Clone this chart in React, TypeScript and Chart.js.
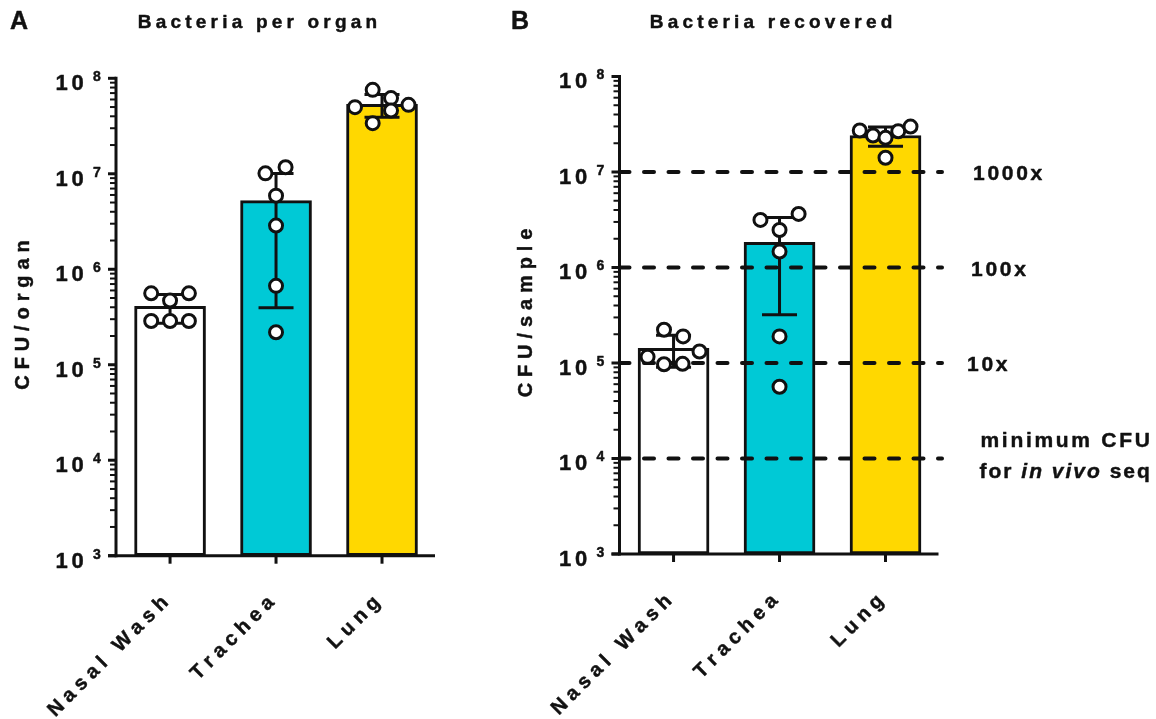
import React, { useEffect, useRef } from "react";
import { Chart, registerables } from "chart.js";

Chart.register(...registerables);

// ---------------- data ----------------
const categories = ["Nasal Wash", "Trachea", "Lung"];
const barColors = ["#FFFFFF", "#00C9D6", "#FFD800"];

// Panel A: CFU per organ (individual animals)
const organNasal = [5.6e5, 5.6e5, 4.7e5, 2.87e5, 2.87e5, 2.87e5];
const organTrachea = [1.01e7, 1.17e7, 5.9e6, 2.87e6, 6.7e5, 2.19e5];
const organLung = [4.99e7, 7.57e7, 6.2e7, 4.6e7, 5.27e7, 3.39e7];
// horizontal scatter spread of the dots (category units)
const organNasalSpread = [-0.178, 0.178, 0, -0.178, 0, 0.178];
const organTracheaSpread = [-0.1, 0.09, 0, 0, 0, 0];
const organLungSpread = [-0.255, -0.088, 0.085, 0.085, 0.25, -0.088];

// Panel B: CFU per sample (individual animals)
const sampleNasal = [2.23e5, 1.9e5, 1.16e5, 1.32e5, 9.7e4, 9.8e4];
const sampleTrachea = [3.15e6, 3.64e6, 2.47e6, 1.47e6, 1.9e5, 5.64e4];
const sampleLung = [2.72e7, 2.41e7, 2.28e7, 2.67e7, 2.99e7, 1.41e7];
const sampleNasalSpread = [-0.09, 0.09, -0.245, 0.245, -0.09, 0.085];
const sampleTracheaSpread = [-0.18, 0.18, 0, 0, 0, 0];
const sampleLungSpread = [-0.243, -0.118, 0, 0.12, 0.236, 0];

// reference thresholds in panel B
const thresholdValues = [1e7, 1e6, 1e5, 1e4];
const thresholdLabels = ["1000x", "100x", "10x", "minimum CFU"];

// y-axis decades (10^n)
const decadeExponents = [3, 4, 5, 6, 7, 8];

// ---------------- helpers ----------------
const INK = "#111111";
const FONT = '"Liberation Sans", Arial, Helvetica, sans-serif';
const TEXT_STROKE = 0.45;

function mean(a: number[]) {
  return a.reduce((s, v) => s + v, 0) / a.length;
}
function sd(a: number[]) {
  const m = mean(a);
  return Math.sqrt(a.reduce((s, v) => s + (v - m) * (v - m), 0) / (a.length - 1));
}

function spacedWidth(ctx: CanvasRenderingContext2D, text: string, spacing: number) {
  let w = 0;
  const chars = Array.from(text);
  for (const ch of chars) w += ctx.measureText(ch).width;
  return w + spacing * (chars.length - 1);
}

function drawSpaced(
  ctx: CanvasRenderingContext2D,
  text: string,
  x: number,
  y: number,
  spacing: number,
  align: "left" | "center" | "right" = "left"
) {
  const w = spacedWidth(ctx, text, spacing);
  let cx = align === "left" ? x : align === "center" ? x - w / 2 : x - w;
  ctx.textAlign = "left";
  ctx.lineWidth = TEXT_STROKE;
  ctx.strokeStyle = INK;
  ctx.lineJoin = "round";
  for (const ch of Array.from(text)) {
    ctx.fillText(ch, cx, y);
    if (ch !== " ") ctx.strokeText(ch, cx, y);
    cx += ctx.measureText(ch).width + spacing;
  }
  return cx;
}

interface PanelCfg {
  letter: string;
  letterX: number;
  title: string;
  titleX: number;
  yTitle: string;
  yTitleX: number;
  yTitleY: number;
  groups: number[][];
  spreads: number[][];
  thresholds?: number[];
  thresholdLabels?: string[];
  dashEnd?: number;
}

function makePanelPlugin(cfg: PanelCfg) {
  return {
    id: "panel" + cfg.letter,
    afterDatasetDraw(chart: any, args: any) {
      if (args.index !== 0) return;
      const ctx: CanvasRenderingContext2D = chart.ctx;
      const xs = chart.scales.x;
      const ys = chart.scales.y;
      ctx.save();
      if (cfg.thresholds) {
        ctx.strokeStyle = INK;
        ctx.lineWidth = 4;
        ctx.lineCap = "round";
        ctx.setLineDash([10, 14.5]);
        for (const v of cfg.thresholds) {
          const py = ys.getPixelForValue(v);
          ctx.beginPath();
          ctx.moveTo(chart.chartArea.left, py);
          ctx.lineTo(cfg.dashEnd || chart.chartArea.right, py);
          ctx.stroke();
        }
        ctx.setLineDash([]);
      }
      ctx.strokeStyle = INK;
      ctx.lineCap = "butt";
      ctx.lineWidth = 3;
      cfg.groups.forEach((g, i) => {
        const m = mean(g);
        const s = sd(g);
        const px = xs.getPixelForValue(i);
        const t = ys.getPixelForValue(m + s);
        const b = ys.getPixelForValue(Math.max(m - s, 1e3));
        ctx.beginPath();
        ctx.moveTo(px, t);
        ctx.lineTo(px, b);
        ctx.moveTo(px - 17.5, t);
        ctx.lineTo(px + 17.5, t);
        ctx.moveTo(px - 17.5, b);
        ctx.lineTo(px + 17.5, b);
        ctx.stroke();
      });
      ctx.restore();
    },
    afterDraw(chart: any) {
      const ctx: CanvasRenderingContext2D = chart.ctx;
      const xs = chart.scales.x;
      const ys = chart.scales.y;
      const { left, right, top, bottom } = chart.chartArea;
      ctx.save();
      ctx.strokeStyle = INK;
      ctx.fillStyle = INK;
      const seg = (x1: number, y1: number, x2: number, y2: number) => {
        ctx.beginPath();
        ctx.moveTo(x1, y1);
        ctx.lineTo(x2, y2);
        ctx.stroke();
      };
      // axes
      ctx.lineWidth = 3;
      seg(left, top - 1.5, left, bottom + 1.5);
      seg(left - 8, bottom, right, bottom);
      for (const e of decadeExponents) {
        const py = ys.getPixelForValue(Math.pow(10, e));
        seg(left - 8, py, left, py);
      }
      ctx.lineWidth = 2;
      for (let e = 3; e < 8; e++) {
        for (let k = 2; k <= 9; k++) {
          const py = ys.getPixelForValue(k * Math.pow(10, e));
          seg(left - 6, py, left, py);
        }
      }
      ctx.lineWidth = 3;
      categories.forEach((_, i) => {
        const px = xs.getPixelForValue(i);
        seg(px, bottom, px, bottom + 8);
      });

      // y tick labels 10^n
      ctx.textBaseline = "alphabetic";
      for (const e of decadeExponents) {
        const py = ys.getPixelForValue(Math.pow(10, e));
        ctx.font = `bold 22px ${FONT}`;
        drawSpaced(ctx, "10", left - 60.6, py + 11.8, 3.9, "left");
        ctx.font = `bold 14px ${FONT}`;
        drawSpaced(ctx, String(e), left - 23, py + 2.8, 0, "left");
      }

      // x category labels (rotated)
      ctx.font = `bold 20px ${FONT}`;
      categories.forEach((c, i) => {
        const px = xs.getPixelForValue(i);
        ctx.save();
        ctx.translate(px - 1, bottom + 48);
        ctx.rotate(-Math.PI / 4);
        drawSpaced(ctx, c, 0, 0, 5.4, "right");
        ctx.restore();
      });

      // y title
      ctx.save();
      ctx.font = `bold 20px ${FONT}`;
      ctx.translate(cfg.yTitleX, cfg.yTitleY);
      ctx.rotate(-Math.PI / 2);
      drawSpaced(ctx, cfg.yTitle, 0, 0, 5.9, "center");
      ctx.restore();

      // title
      ctx.font = `bold 19px ${FONT}`;
      drawSpaced(ctx, cfg.title, cfg.titleX, 27.5, 4.2, "center");

      // panel letter
      ctx.font = `bold 25px ${FONT}`;
      drawSpaced(ctx, cfg.letter, cfg.letterX, 29, 0, "left");

      // threshold labels
      if (cfg.thresholds && cfg.thresholdLabels) {
        const xPos = [973, 971, 967, 980.5];
        const dy = [8, 8, 8, -11.5];
        cfg.thresholds.forEach((v, i) => {
          const py = ys.getPixelForValue(v);
          ctx.font = `bold 21px ${FONT}`;
          drawSpaced(ctx, cfg.thresholdLabels![i], xPos[i], py + dy[i], 2.7, "left");
        });
        // second line under the minimum label
        const py4 = ys.getPixelForValue(cfg.thresholds[cfg.thresholds.length - 1]) + 19;
        let cx = 979.5;
        ctx.font = `bold 21px ${FONT}`;
        cx = drawSpaced(ctx, "for ", cx, py4, 2.0, "left");
        ctx.font = `italic bold 21px ${FONT}`;
        cx = drawSpaced(ctx, "in vivo", cx, py4, 2.0, "left");
        ctx.font = `bold 21px ${FONT}`;
        drawSpaced(ctx, " seq", cx, py4, 2.0, "left");
      }
      ctx.restore();
    },
  };
}

function buildChart(
  canvas: HTMLCanvasElement,
  cfg: PanelCfg,
  area: { left: number; right: number; top: number; bottom: number }
) {
  const means = cfg.groups.map((g) => mean(g));
  const points: { x: number; y: number }[] = [];
  cfg.groups.forEach((g, i) => {
    g.forEach((v, j) => points.push({ x: i + cfg.spreads[i][j], y: v }));
  });
  return new Chart(canvas, {
    type: "bar",
    data: {
      datasets: [
        {
          type: "bar",
          data: means.map((m, i) => ({ x: i, y: m })),
          backgroundColor: barColors,
          borderColor: INK,
          borderWidth: 3,
          borderSkipped: false,
          barThickness: 71,
          order: 2,
        } as any,
        {
          type: "scatter",
          data: points,
          pointRadius: 6.5,
          pointHoverRadius: 6.5,
          pointBackgroundColor: "#FFFFFF",
          pointBorderColor: INK,
          pointBorderWidth: 3,
          order: 1,
        } as any,
      ],
    },
    options: {
      responsive: false,
      animation: false,
      devicePixelRatio: 1,
      events: [],
      layout: {
        padding: {
          left: area.left,
          right: 1156 - area.right,
          top: area.top,
          bottom: 719 - area.bottom,
        },
      },
      plugins: {
        legend: { display: false },
        tooltip: { enabled: false },
        title: { display: false },
      },
      scales: {
        x: { type: "linear", min: -0.51, max: 2.5, offset: false, display: false },
        y: { type: "logarithmic", min: 1e3, max: 1e8, display: false },
      },
    } as any,
    plugins: [makePanelPlugin(cfg) as any],
  });
}

export default function App() {
  const refA = useRef<HTMLCanvasElement>(null);
  const refB = useRef<HTMLCanvasElement>(null);

  useEffect(() => {
    const cfgA: PanelCfg = {
      letter: "A",
      letterX: 10,
      title: "Bacteria per organ",
      titleX: 257.5,
      yTitle: "CFU/organ",
      yTitleX: 28.5,
      yTitleY: 315,
      groups: [organNasal, organTrachea, organLung],
      spreads: [organNasalSpread, organTracheaSpread, organLungSpread],
    };
    const cfgB: PanelCfg = {
      letter: "B",
      letterX: 511,
      title: "Bacteria recovered",
      titleX: 771,
      yTitle: "CFU/sample",
      yTitleX: 532,
      yTitleY: 313,
      groups: [sampleNasal, sampleTrachea, sampleLung],
      spreads: [sampleNasalSpread, sampleTracheaSpread, sampleLungSpread],
      thresholds: thresholdValues,
      thresholdLabels: thresholdLabels,
      dashEnd: 942,
    };
    const a = buildChart(refA.current!, cfgA, { left: 116, right: 435, top: 78.3, bottom: 555.7 });
    const b = buildChart(refB.current!, cfgB, { left: 619.5, right: 938.5, top: 76.5, bottom: 554 });
    return () => {
      a.destroy();
      b.destroy();
    };
  }, []);

  const canvasStyle: React.CSSProperties = {
    position: "absolute",
    left: 0,
    top: 0,
    width: 1156,
    height: 719,
  };

  return (
    <div
      style={{
        position: "fixed",
        left: 0,
        top: 0,
        width: 1156,
        height: 719,
        background: "#FFFFFF",
        overflow: "hidden",
      }}
    >
      <canvas ref={refA} width={1156} height={719} style={canvasStyle} />
      <canvas ref={refB} width={1156} height={719} style={canvasStyle} />
    </div>
  );
}
